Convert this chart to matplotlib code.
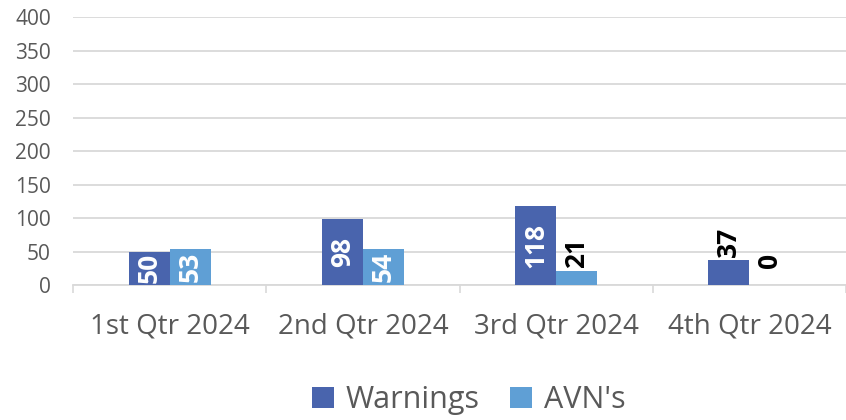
import numpy as np
import matplotlib.pyplot as plt

quarters = ['1st Qtr 2024', '2nd Qtr 2024', '3rd Qtr 2024', '4th Qtr 2024']
warnings = [50, 98, 118, 37]
avns = [53, 54, 21, 0]

c_warn = '#4964AD'
c_avn = '#5F9FD5'
grey = '#595959'
line = '#D9D9D9'

plt.rcParams['font.family'] = ['Open Sans', 'DejaVu Sans']

fig = plt.figure(figsize=(8.46, 4.2), dpi=100)
ax = fig.add_axes([73/846, 135/420, 773/846, 268/420])

x = np.arange(len(quarters))
w = 0.212
b1 = ax.bar(x - w/2, warnings, w, color=c_warn, label='Warnings', zorder=3)
b2 = ax.bar(x + w/2, avns, w, color=c_avn, label="AVN's", zorder=3)

ax.set_xlim(-0.5, len(quarters) - 0.5)
ax.set_ylim(0, 400)
ax.set_yticks(range(0, 401, 50))
ax.set_xticks(x)
ax.set_xticklabels(quarters)
ax.set_xticks(np.arange(-0.5, len(quarters), 1), minor=True)
ax.tick_params(axis='y', length=0, labelsize=15, labelcolor=grey, pad=16)
ax.tick_params(axis='x', which='major', length=0, labelsize=20, labelcolor=grey, pad=20)
ax.tick_params(axis='x', which='minor', length=6, color=line, width=1.2)
ax.grid(axis='y', color=line, linewidth=1.3, zorder=0)
for s in ['top', 'right', 'left']:
    ax.spines[s].set_visible(False)
ax.spines['bottom'].set_color(line)
ax.spines['bottom'].set_linewidth(1.3)

# labels: centered inside when they fit, otherwise just above the bar
for bars, vals in [(b1, warnings), (b2, avns)]:
    for rect, v in zip(bars, vals):
        cx = rect.get_x() + rect.get_width() / 2
        if v >= 45:
            ax.text(cx, v / 2, str(v), rotation=90, ha='center', va='center',
                    color='white', fontsize=19, fontweight='bold', zorder=4)
        else:
            off = 2 if v > 0 else 12
            ax.annotate(str(v), (cx, v), xytext=(0, off), textcoords='offset points',
                        rotation=90, ha='center', va='bottom',
                        color='black', fontsize=19, fontweight='bold', zorder=4)

fig.legend(handles=[b1, b2], loc='center', bbox_to_anchor=(469/846, 20/420),
           ncol=2, frameon=False, fontsize=22, labelcolor=grey,
           handlelength=0.7, handleheight=0.7, handletextpad=0.4, columnspacing=1.0)

fig.savefig('out.png', dpi=100)
